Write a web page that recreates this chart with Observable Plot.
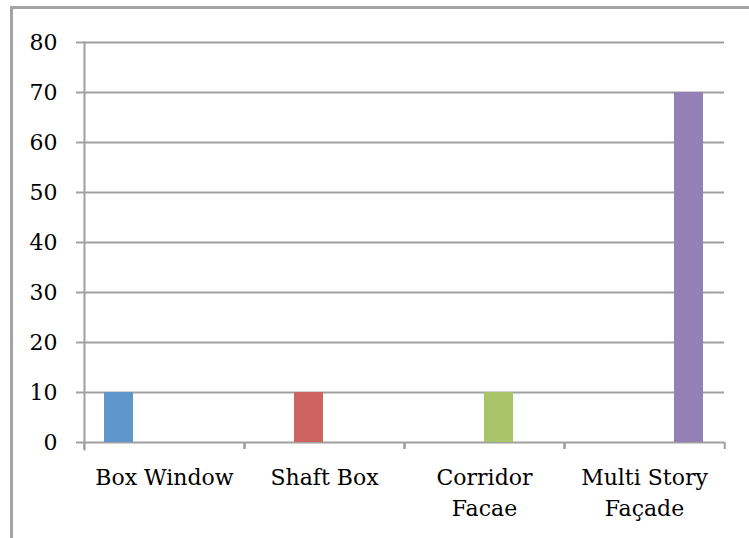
<!DOCTYPE html>
<html>
<head>
<meta charset="utf-8">
<script src="https://cdn.jsdelivr.net/npm/d3@7"></script>
<script src="https://cdn.jsdelivr.net/npm/@observablehq/plot@0.6"></script>
<style>
  html, body { margin: 0; padding: 0; background: #fff; overflow: hidden; }
  #wrap { position: relative; width: 749px; height: 538px; }
  #border { position: absolute; left: 10px; top: 6px; width: 800px; height: 600px; border: 3px solid #a3a3a3; box-sizing: border-box; }
  #chart { position: absolute; left: 0; top: 0; }
</style>
</head>
<body>
<div id="wrap"><div id="border"></div><div id="chart"></div></div>
<script>
const categories = ["Box Window", "Shaft Box", "Corridor Facae", "Multi Story Façade"];
const tickLabels = ["Box Window", "Shaft Box", "Corridor\nFacae", "Multi Story\nFaçade"];
const series = ["Box Window", "Shaft Box", "Corridor Facae", "Multi Story Façade"];
const seriesValues = [
  [10, 0, 0, 0],
  [0, 10, 0, 0],
  [0, 0, 10, 0],
  [0, 0, 0, 70]
];
const seriesColors = ["#5f96cc", "#cd645f", "#a8c56a", "#9480b5"];
const yTicks = [0, 10, 20, 30, 40, 50, 60, 70, 80];

const data = [];
series.forEach((s, si) => categories.forEach((c, ci) => {
  data.push({category: c, series: s, value: seriesValues[si][ci]});
}));

const W = 749, H = 538, mL = 83, mR = 24, mT = 42, mB = 96;
const step = (W - mL - mR) / categories.length;
const grey = "#a0a0a0";
const font = "'DejaVu Serif', serif";

const chart = Plot.plot({
  width: W, height: H,
  marginLeft: mL, marginRight: mR, marginTop: mT, marginBottom: mB,
  style: {fontFamily: font, fontSize: "22px", color: "#000", background: "transparent"},
  fx: {domain: categories, padding: 0, label: null},
  x: {domain: series, paddingInner: 0.03, paddingOuter: 0.62, axis: null},
  y: {domain: [0, 80], label: null},
  color: {domain: series, range: seriesColors},
  marks: [
    Plot.gridY(yTicks, {stroke: grey, strokeOpacity: 1, strokeWidth: 2}),
    Plot.barY(data, {fx: "category", x: "series", y: "value", fill: "series"}),
    Plot.axisY(yTicks, {anchor: "left", tickSize: 8, tickPadding: 19, stroke: grey, strokeWidth: 2, fontSize: 22, tickFormat: d => String(d)}),
    Plot.frame({anchor: "left", fx: [categories[0]], stroke: grey, strokeWidth: 2, insetBottom: -7}),
    Plot.axisFx({anchor: "bottom", tickSize: 7, dx: -step / 2, stroke: grey, strokeWidth: 2, text: null, label: null}),
    Plot.axisFx([categories[categories.length - 1]], {anchor: "bottom", tickSize: 7, dx: step / 2, stroke: grey, strokeWidth: 2, text: null, label: null}),
    Plot.axisFx({anchor: "bottom", tickSize: 0, tickPadding: 21, fontSize: 22, lineHeight: 1.4, label: null, tickFormat: d => tickLabels[categories.indexOf(d)]})
  ]
});
document.getElementById("chart").appendChild(chart);
</script>
</body>
</html>
